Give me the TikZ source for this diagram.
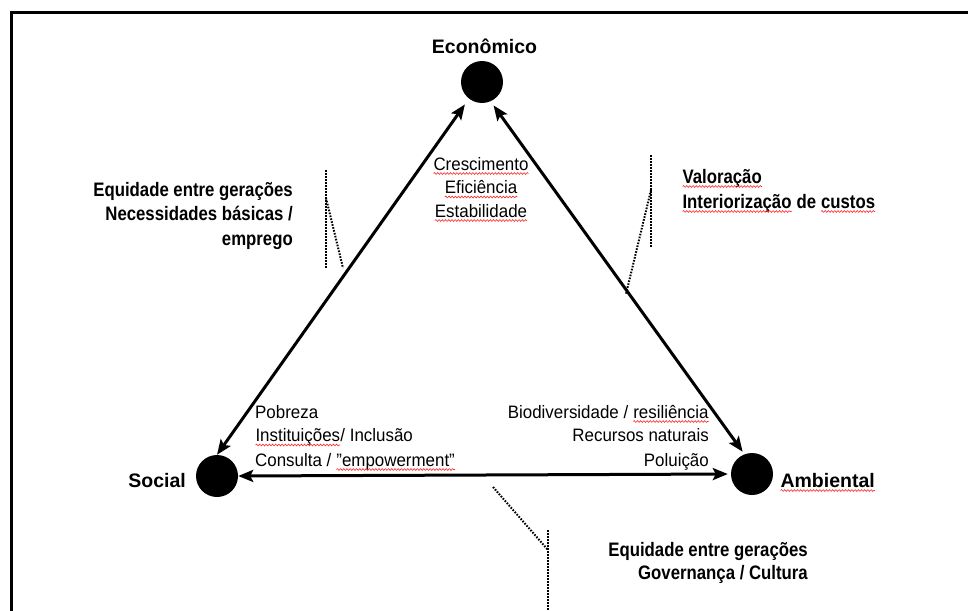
\documentclass[tikz,border=0pt]{standalone}
\usepackage{fontspec}
\setmainfont{Liberation Sans}
\newfontfamily\condreg[FakeStretch=0.94]{Liberation Sans}
\newfontfamily\condbold[FakeStretch=0.86]{Liberation Sans}
\usetikzlibrary{arrows.meta,decorations.pathmorphing}
\newcommand\spellmark[1]{\tikz[baseline=(spw.base)]{\node[inner sep=0pt,outer sep=0pt] (spw) {#1};\draw[red!85, line width=0.6pt, decorate, decoration={snake, amplitude=0.9pt, segment length=3.2pt}] ([yshift=-3.5pt]spw.base west) -- ([yshift=-3.5pt]spw.base east);}}
\tikzset{
  hub/.style={circle, fill=black, inner sep=0pt, minimum size=42pt},
  lbltext/.style={font=\bfseries\fontsize{19.5}{22}\selectfont, inner sep=0pt},
  midtext/.style={font=\condreg\fontsize{18}{21}\selectfont, inner sep=0pt},
  calltext/.style={font=\condbold\bfseries\fontsize{19.5}{23}\selectfont, inner sep=0pt},
  arrowlink/.style={line width=3pt, {Stealth[length=15pt,width=12pt,inset=3pt]}-{Stealth[length=15pt,width=12pt,inset=3pt]}},
  callout/.style={line width=2pt, dash pattern=on 1.6pt off 1.4pt},
  frameline/.style={line width=3.5pt, line join=miter}
}
\begin{document}
\begin{tikzpicture}[x=1pt,y=-1pt]
\useasboundingbox (0,0) rectangle (968,610);
% frame
\coordinate (fbl) at (11.5,612);
\coordinate (ftl) at (11.5,12.5);
\coordinate (ftr) at (970,12.5);
\draw[frameline] (fbl) -- (ftl) -- (ftr);

% hubs
\node[hub] (econ) at (482,82) {};
\node[hub] (social) at (217,476) {};
\node[hub] (amb) at (752,474) {};

% hub labels
\node[lbltext, anchor=base] (econlbl) at (484.5,53) {Econômico};
\node[lbltext, anchor=base east] (soclbl) at (186,487) {Social};
\node[lbltext, anchor=base west] (amblbl) at (780,487) {\spellmark{Ambiental}};

% connectors
\draw[arrowlink, shorten >=7pt] (social.90) -- (econ.232);
\draw[arrowlink, shorten <=5pt, shorten >=3pt] (econ.-66) -- (amb.111);
\draw[arrowlink, shorten >=3pt] (social.east) -- (amb.west);

% text near economico
\node[midtext, anchor=base] (e1) at (481,170) {\spellmark{Crescimento}};
\node[midtext, anchor=base] (e2) at (481,193.5) {\spellmark{Eficiência}};
\node[midtext, anchor=base] (e3) at (481,217) {\spellmark{Estabilidade}};

% text near social
\node[midtext, anchor=base west] (s1) at (255,418) {Pobreza};
\node[midtext, anchor=base west] (s2) at (255,441.5) {\spellmark{Instituições}/ Inclusão};
\node[midtext, anchor=base west] (s3) at (255,466) {Consulta / \spellmark{”empowerment”}};

% text near ambiental
\node[midtext, anchor=base east] (a1) at (709,418) {Biodiversidade / \spellmark{resiliência}};
\node[midtext, anchor=base east] (a2) at (709,441.5) {Recursos naturais};
\node[midtext, anchor=base east] (a3) at (709,466) {Poluição};

% left callout
\node[calltext, anchor=base east] (l1) at (293,196) {Equidade entre gerações};
\node[calltext, anchor=base east] (l2) at (293,220) {Necessidades básicas /};
\node[calltext, anchor=base east] (l3) at (293,245) {emprego};
\coordinate (lv1) at (326,170);
\coordinate (lv2) at (326,268);
\coordinate (ld1) at (326,198);
\coordinate (ld2) at (343,268);
\draw[callout] (lv1) -- (lv2);
\draw[callout] (ld1) -- (ld2);

% right callout
\node[calltext, anchor=base west] (r1) at (682,183) {\spellmark{Valoração}};
\node[calltext, anchor=base west] (r2) at (682,208) {\spellmark{Interiorização} de \spellmark{custos}};
\coordinate (rv1) at (651,155);
\coordinate (rv2) at (651,247);
\coordinate (rd1) at (651,190);
\coordinate (rd2) at (626,294);
\draw[callout] (rv1) -- (rv2);
\draw[callout] (rd1) -- (rd2);

% bottom callout
\node[calltext, anchor=base east] (b1) at (808,556) {Equidade entre gerações};
\node[calltext, anchor=base east] (b2) at (808,579) {Governança / Cultura};
\coordinate (bd1) at (493,487);
\coordinate (bd2) at (548,550);
\coordinate (bv1) at (548,530);
\coordinate (bv2) at (548,612);
\draw[callout] (bd1) -- (bd2);
\draw[callout] (bv1) -- (bv2);
\end{tikzpicture}
\end{document}
